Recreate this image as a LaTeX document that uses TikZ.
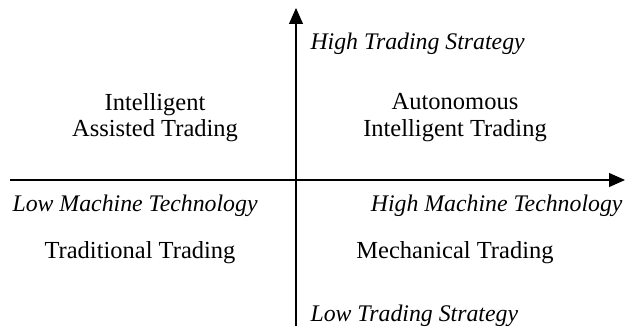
\documentclass[tikz,border=0pt]{standalone}
\usepackage{fontspec}
\setmainfont{Liberation Serif}
\usetikzlibrary{arrows.meta}
\begin{document}
\begin{tikzpicture}[x=1pt,y=-1pt,
  axis/.style={line width=1.1pt,-{Triangle[length=16pt,width=14pt]}},
  quad/.style={font=\fontsize{24.5}{26.5}\selectfont,align=center},
  axlabel/.style={font=\fontsize{23.8}{26}\selectfont\itshape}]
\useasboundingbox (0,0) rectangle (636,329);
% axes
\coordinate (xs) at (10,180);
\coordinate (xe) at (625,180);
\coordinate (ys) at (296,326);
\coordinate (ye) at (296,8);
\draw[axis] (xs) -- (xe);
\draw[axis] (ys) -- (ye);
% axis labels
\node[axlabel,anchor=west] (hts) at (307,43.5) {High Trading Strategy};
\node[axlabel,anchor=west] (lts) at (307,315.5) {Low Trading Strategy};
\node[axlabel,anchor=west] (lmt) at (9,205.5) {Low Machine Technology};
\node[axlabel,anchor=east] (hmt) at (626,205.5) {High Machine Technology};
% quadrants
\node[quad] (iat) at (155,117.5) {Intelligent\\Assisted Trading};
\node[quad] (ait) at (455,117.5) {Autonomous\\Intelligent Trading};
\node[quad] (tt) at (140,252.5) {Traditional Trading};
\node[quad] (mt) at (455,252.5) {Mechanical Trading};
\end{tikzpicture}
\end{document}
